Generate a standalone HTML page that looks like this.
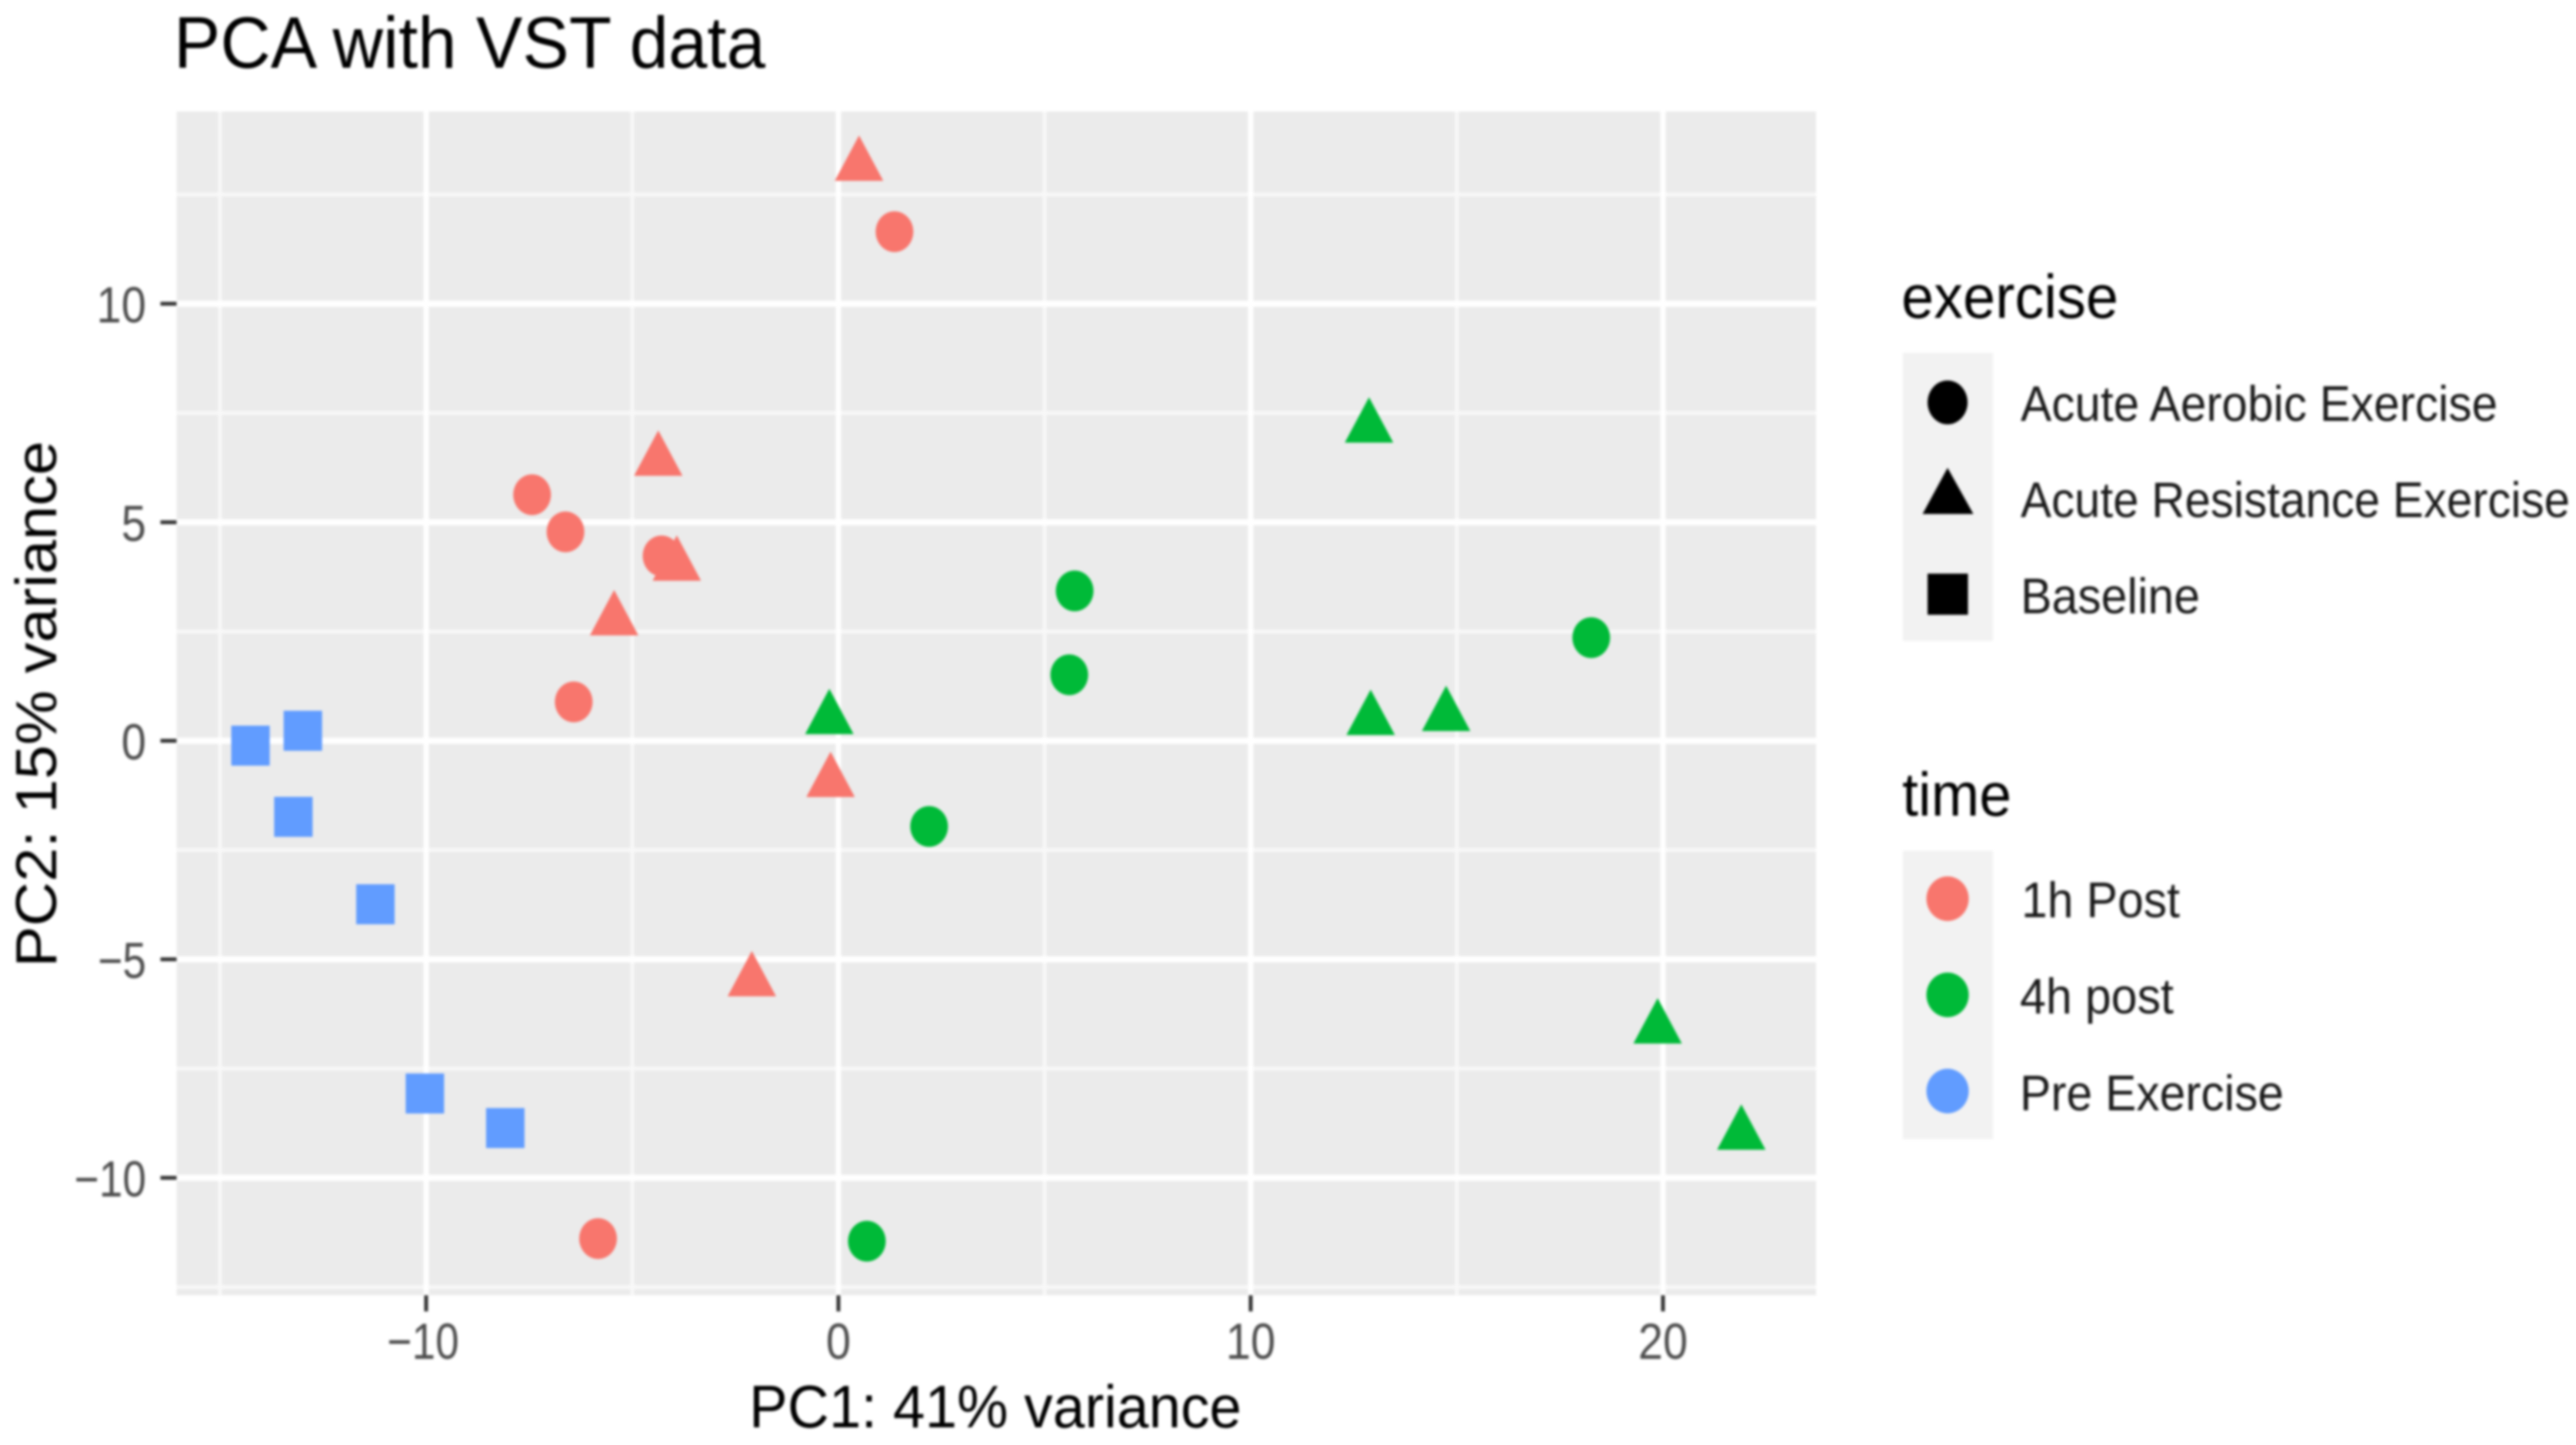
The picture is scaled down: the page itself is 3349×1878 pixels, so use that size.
<!DOCTYPE html>
<html lang="en">
<head>
<meta charset="utf-8">
<title>PCA with VST data</title>
<style>
  html, body { margin: 0; padding: 0; background: #fff; width: 3349px; height: 1878px; overflow: hidden; }
  #chart { display: block; filter: blur(1.7px); font-family: "Liberation Sans", Arial, sans-serif; }
</style>
</head>
<body>
<svg id="chart" xmlns="http://www.w3.org/2000/svg" width="3349" height="1878" viewBox="0 0 3349 1878">
  <rect x="0" y="0" width="3349" height="1878" fill="#ffffff"/>
  <text x="226" y="88" font-size="95" fill="#000" textLength="769" lengthAdjust="spacingAndGlyphs">PCA with VST data</text>
  <rect x="229.6" y="145" width="2131.4" height="1538.4" fill="#ebebeb"/>
  <g id="grid"></g>
  <g id="axes"></g>
  <g id="points"></g>
  <text x="974" y="1855" font-size="78" fill="#000" textLength="640" lengthAdjust="spacingAndGlyphs">PC1: 41% variance</text>
  <text transform="translate(73,1257) rotate(-90)" x="0" y="0" font-size="75" fill="#000" textLength="684" lengthAdjust="spacingAndGlyphs">PC2: 15% variance</text>

  <g>
    <text x="2472" y="413" font-size="80" fill="#000" textLength="282" lengthAdjust="spacingAndGlyphs">exercise</text>
    <rect x="2474" y="458.5" width="117" height="374.5" fill="#f2f2f2"/>
    <ellipse cx="2532" cy="523" rx="26" ry="28.5" fill="#000"/>
    <polygon points="2532,608 2499.5,668 2565.5,668" fill="#000"/>
    <rect x="2506" y="745.5" width="52.5" height="53.5" fill="#000"/>
    <text x="2627" y="547" font-size="65" fill="#1a1a1a" textLength="620" lengthAdjust="spacingAndGlyphs">Acute Aerobic Exercise</text>
    <text x="2627" y="672" font-size="65" fill="#1a1a1a" textLength="714" lengthAdjust="spacingAndGlyphs">Acute Resistance Exercise</text>
    <text x="2627" y="797" font-size="65" fill="#1a1a1a" textLength="233" lengthAdjust="spacingAndGlyphs">Baseline</text>
  </g>

  <g>
    <text x="2473" y="1060" font-size="80" fill="#000" textLength="142" lengthAdjust="spacingAndGlyphs">time</text>
    <rect x="2474" y="1105.7" width="117" height="374.8" fill="#f2f2f2"/>
    <ellipse cx="2532" cy="1168" rx="27.5" ry="29" fill="#F8766D"/>
    <ellipse cx="2532" cy="1293" rx="27.5" ry="29" fill="#00BA38"/>
    <ellipse cx="2532" cy="1418" rx="27.5" ry="29" fill="#619CFF"/>
    <text x="2628" y="1192" font-size="65" fill="#1a1a1a" textLength="206" lengthAdjust="spacingAndGlyphs">1h Post</text>
    <text x="2626" y="1317" font-size="65" fill="#1a1a1a" textLength="200" lengthAdjust="spacingAndGlyphs">4h post</text>
    <text x="2626" y="1443" font-size="65" fill="#1a1a1a" textLength="343" lengthAdjust="spacingAndGlyphs">Pre Exercise</text>
  </g>
</svg>
<script>
const xTickValues = [-10, 0, 10, 20];
const xTickLabels = ["\u221210", "0", "10", "20"];
const xMinorValues = [-15, -5, 5, 15];
const yTickValues = [-10, -5, 0, 5, 10];
const yTickLabels = ["\u221210", "\u22125", "0", "5", "10"];
const yMinorValues = [-12.5, -7.5, -2.5, 2.5, 7.5, 12.5];

const aerobic1hX = [1.36, -7.43, -6.62, -4.29, -6.42, -5.83];
const aerobic1hY = [11.65, 5.63, 4.78, 4.23, 0.89, -11.39];
const aerobic4hX = [5.73, 5.60, 18.26, 2.20, 0.69];
const aerobic4hY = [3.43, 1.51, 2.36, -1.96, -11.45];
const resistance1hX = [0.50, -4.37, -3.92, -5.44, -0.19, -2.10];
const resistance1hY = [13.16, 6.41, 4.01, 2.76, -0.94, -5.50];
const resistance4hX = [12.87, -0.22, 12.91, 14.74, 19.87, 21.90];
const resistance4hY = [7.17, 0.50, 0.48, 0.57, -6.58, -9.01];
const baselinePreX = [-14.26, -12.99, -13.22, -11.23, -10.03, -8.08];
const baselinePreY = [-0.11, 0.23, -1.74, -3.74, -8.07, -8.86];

const SVG_NS = "http://www.w3.org/2000/svg";
const PANEL = { left: 229.6, right: 2361, top: 145, bottom: 1683.4 };
const COLOR_1H = "#F8766D";
const COLOR_4H = "#00BA38";
const COLOR_PRE = "#619CFF";

function scaleX(v) { return 1090 + 53.6 * v; }
function scaleY(v) { return 962.8 - 56.8 * v; }
function labelScale(text) { return (text.charAt(0) === "\u2212" ? 0.95 : 1) + ",1.14"; }

function make(tag, attrs, parent) {
  const el = document.createElementNS(SVG_NS, tag);
  Object.keys(attrs).forEach(function (k) { el.setAttribute(k, attrs[k]); });
  parent.appendChild(el);
  return el;
}

const grid = document.getElementById("grid");
const axes = document.getElementById("axes");
const points = document.getElementById("points");

yMinorValues.forEach(function (v) {
  const el = make("line", { x1: PANEL.left, x2: PANEL.right, y1: scaleY(v), y2: scaleY(v), stroke: "#f8f8f8", "stroke-width": 5 }, grid);
  
  
});
xMinorValues.forEach(function (v) {
  const el = make("line", { x1: scaleX(v), x2: scaleX(v), y1: PANEL.top, y2: PANEL.bottom, stroke: "#f8f8f8", "stroke-width": 5 }, grid);
  
  
});
yTickValues.forEach(function (v) {
  const el = make("line", { x1: PANEL.left, x2: PANEL.right, y1: scaleY(v), y2: scaleY(v), stroke: "#ffffff", "stroke-width": 8 }, grid);
  
  
});
xTickValues.forEach(function (v) {
  const el = make("line", { x1: scaleX(v), x2: scaleX(v), y1: PANEL.top, y2: PANEL.bottom, stroke: "#ffffff", "stroke-width": 7 }, grid);
  
  
});

xTickValues.forEach(function (v, i) {
  const tick = make("line", { x1: scaleX(v), x2: scaleX(v), y1: PANEL.bottom, y2: PANEL.bottom + 21, stroke: "#333333", "stroke-width": 5 }, axes);
  
  
  const label = make("text", { transform: "translate(" + (scaleX(v) - (xTickLabels[i].length > 2 ? 4 : 0)) + ",1766) scale(" + labelScale(xTickLabels[i]) + ")", "text-anchor": "middle", "font-size": 58, fill: "#4d4d4d" }, axes);
  label.textContent = xTickLabels[i];
  
  
});
yTickValues.forEach(function (v, i) {
  const tick = make("line", { x1: PANEL.left - 21, x2: PANEL.left, y1: scaleY(v), y2: scaleY(v), stroke: "#333333", "stroke-width": 5 }, axes);
  
  
  const label = make("text", { transform: "translate(190," + (scaleY(v) + 24) + ") scale(" + labelScale(yTickLabels[i]) + ")", "text-anchor": "end", "font-size": 58, fill: "#4d4d4d" }, axes);
  label.textContent = yTickLabels[i];
  
  
});

function drawCircles(xs, ys, color) {
  xs.forEach(function (v, i) {
    const el = make("ellipse", { cx: scaleX(v), cy: scaleY(ys[i]), rx: 24.5, ry: 26.5, fill: color }, points);
    
    
  });
}
function drawTriangles(xs, ys, color) {
  xs.forEach(function (v, i) {
    const cx = scaleX(v);
    const cy = scaleY(ys[i]);
    const pts = cx + "," + (cy - 39.3) + " " + (cx - 31.5) + "," + (cy + 19.7) + " " + (cx + 31.5) + "," + (cy + 19.7);
    const el = make("polygon", { points: pts, fill: color }, points);
    
    
  });
}
function drawSquares(xs, ys, color) {
  xs.forEach(function (v, i) {
    const el = make("rect", { x: scaleX(v) - 25, y: scaleY(ys[i]) - 26, width: 50, height: 52, fill: color }, points);
    
    
  });
}

drawCircles(aerobic1hX, aerobic1hY, COLOR_1H);
drawCircles(aerobic4hX, aerobic4hY, COLOR_4H);
drawTriangles(resistance1hX, resistance1hY, COLOR_1H);
drawTriangles(resistance4hX, resistance4hY, COLOR_4H);
drawSquares(baselinePreX, baselinePreY, COLOR_PRE);
</script>
</body>
</html>
